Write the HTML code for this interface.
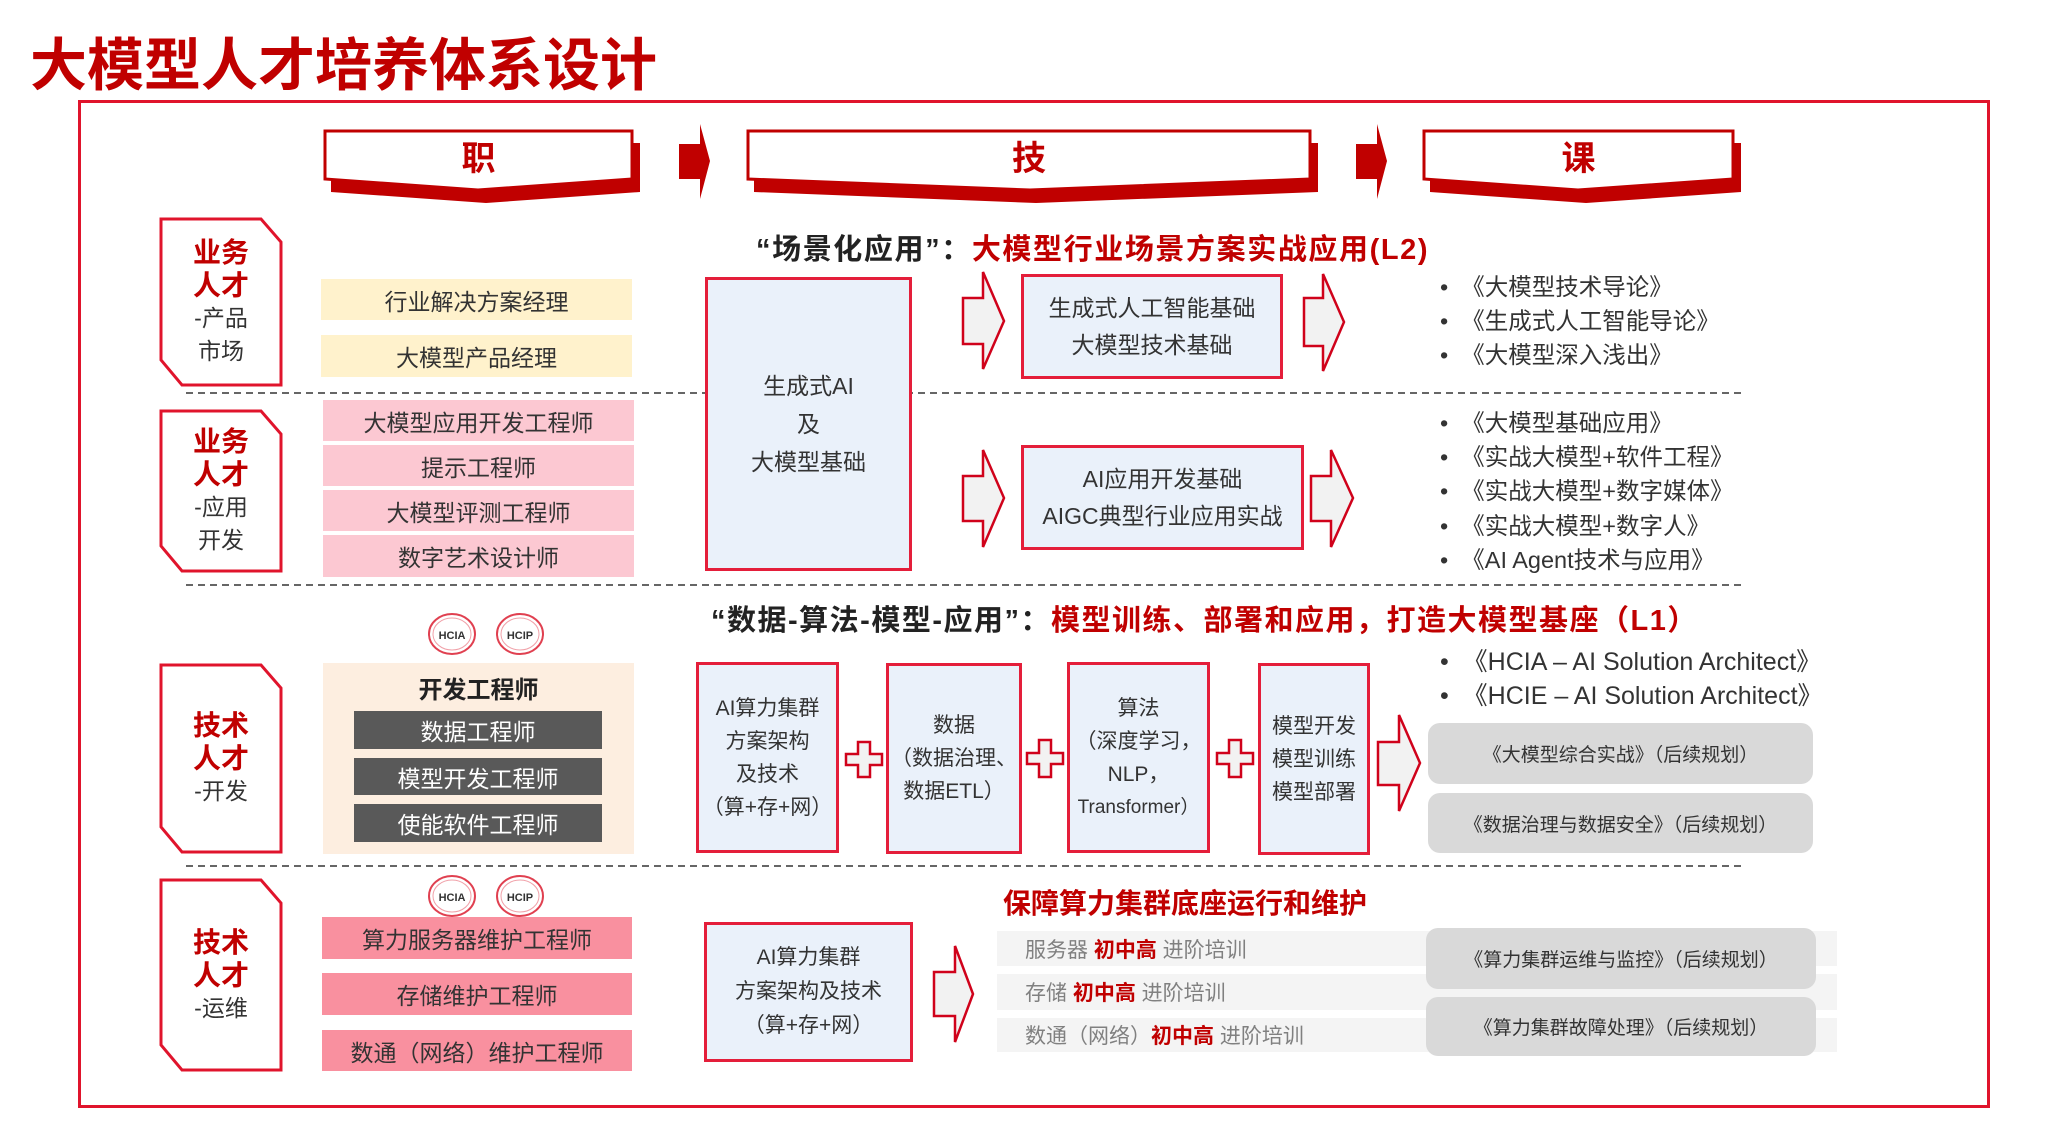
<!DOCTYPE html>
<html><head><meta charset="utf-8"><style>
*{margin:0;padding:0;box-sizing:border-box}
body{width:2048px;height:1131px;background:#fff;position:relative;overflow:hidden;font-family:"Liberation Sans","Noto Sans CJK SC",sans-serif;color:#333}
.a{position:absolute}
.c{position:absolute;display:flex;flex-direction:column;align-items:center;justify-content:center;text-align:center;white-space:nowrap}
.blue{background:#eaf1fa;border:3px solid #e41e3a}
.y{background:#fff2cc;font-size:23px}
.p{background:#fcc8d2;font-size:23px}
.pp{background:#f9909f;font-size:23px}
.dk{background:#595959;color:#fff;font-size:23px}
.gb{background:#d9d9d9;border-radius:12px;font-size:19px}
.strip{background:#f4f4f4;font-size:21px;color:#808080;display:flex;align-items:center;padding-left:28px;white-space:nowrap}
.strip b{color:#c00000}
.lbl span{line-height:33px}
.lbl .r{color:#c00000;font-weight:bold;font-size:28px}
.lbl .n{font-size:23px}
.bl{font-size:23.5px;white-space:nowrap}
.r{color:#c00000}
</style></head><body>
<div class="a" style="left:30px;top:20px;font-size:57px;font-weight:bold;color:#c00000;white-space:nowrap">大模型人才培养体系设计</div>
<div class="a" style="left:78px;top:100px;width:1912px;height:1008px;border:3px solid #e0142c"></div>

<svg class="a" style="left:0;top:0" width="2048" height="1131">
<g fill="#c00000">
<polygon points="331,143 640,143 640,192 486,203 331,192"/>
<polygon points="754,143 1318,143 1318,192 1036,203 754,192"/>
<polygon points="1430,143 1741,143 1741,192 1586,203 1430,192"/>
</g>
<g fill="#fff" stroke="#c00000" stroke-width="3">
<polygon points="325,131 632,131 632,179 478,190 325,179"/>
<polygon points="748,131 1310,131 1310,179 1030,190 748,179"/>
<polygon points="1424,131 1733,131 1733,179 1578,190 1424,179"/>
</g>
<g fill="#c00000">
<polygon points="679,144 700,144 700,124 710,161 700,199 700,179 679,179"/>
<polygon points="1356,144 1377,144 1377,124 1387,161 1377,199 1377,179 1356,179"/>
</g>
<g fill="#fff" stroke="#e0142c" stroke-width="3">
<polygon points="161,219 261,219 281,242 281,385 182,385 161,360"/>
<polygon points="161,411 261,411 281,434 281,571 182,571 161,546"/>
<polygon points="161,665 261,665 281,688 281,852 182,852 161,827"/>
<polygon points="161,880 261,880 281,903 281,1070 182,1070 161,1045"/>
</g>
<g stroke="#666" stroke-width="2" stroke-dasharray="7,5">
<line x1="186" y1="393" x2="1742" y2="393"/>
<line x1="186" y1="585" x2="1742" y2="585"/>
<line x1="186" y1="866" x2="1742" y2="866"/>
</g>
<g fill="#f2f2f2" stroke="#d0021b" stroke-width="2.5">
<polygon points="963,298 983,298 983,272 1004,321 983,369 983,344 963,344"/>
<polygon points="963,476 983,476 983,450 1004,498 983,547 983,521 963,521"/>
<polygon points="1304,298 1323,298 1323,274 1344,322 1323,371 1323,346 1304,346"/>
<polygon points="1311,476 1331,476 1331,450 1353,498 1331,547 1331,521 1311,521"/>
<polygon points="1378,742 1399,742 1399,715 1420,763 1399,811 1399,785 1378,785"/>
<polygon points="934,972 955,972 955,946 973,994 955,1042 955,1016 934,1016"/>
</g>
<g fill="#f2f2f2" stroke="#d0021b" stroke-width="2.5">
<polygon points="858,742 870,742 870,754 882,754 882,765 870,765 870,777 858,777 858,765 846,765 846,754 858,754"/>
<polygon points="1039,740 1051,740 1051,753 1063,753 1063,764 1051,764 1051,777 1039,777 1039,764 1027,764 1027,753 1039,753"/>
<polygon points="1229,740 1241,740 1241,753 1253,753 1253,764 1241,764 1241,777 1229,777 1229,764 1217,764 1217,753 1229,753"/>
</g>
<g font-family="Liberation Sans,sans-serif" font-size="11" font-weight="bold" fill="#333" text-anchor="middle">
<g transform="translate(452,634)"><ellipse rx="23" ry="20" fill="#fff" stroke="#e04050" stroke-width="2"/><ellipse rx="19" ry="16" fill="none" stroke="#f0a0a8" stroke-width="1"/><text y="5">HCIA</text></g>
<g transform="translate(520,634)"><ellipse rx="23" ry="20" fill="#fff" stroke="#e04050" stroke-width="2"/><ellipse rx="19" ry="16" fill="none" stroke="#f0a0a8" stroke-width="1"/><text y="5">HCIP</text></g>
<g transform="translate(452,896)"><ellipse rx="23" ry="20" fill="#fff" stroke="#e04050" stroke-width="2"/><ellipse rx="19" ry="16" fill="none" stroke="#f0a0a8" stroke-width="1"/><text y="5">HCIA</text></g>
<g transform="translate(520,896)"><ellipse rx="23" ry="20" fill="#fff" stroke="#e04050" stroke-width="2"/><ellipse rx="19" ry="16" fill="none" stroke="#f0a0a8" stroke-width="1"/><text y="5">HCIP</text></g>
</g>
</svg>

<div class="c" style="left:325px;top:131px;width:307px;height:48px;font-size:34px;font-weight:bold;color:#c00000">职</div>
<div class="c" style="left:748px;top:131px;width:562px;height:48px;font-size:34px;font-weight:bold;color:#c00000">技</div>
<div class="c" style="left:1424px;top:131px;width:309px;height:48px;font-size:34px;font-weight:bold;color:#c00000">课</div>

<div class="c lbl" style="left:161px;top:219px;width:120px;height:166px"><span class="r">业务</span><span class="r">人才</span><span class="n">-产品</span><span class="n">市场</span></div>
<div class="c lbl" style="left:161px;top:411px;width:120px;height:160px"><span class="r">业务</span><span class="r">人才</span><span class="n">-应用</span><span class="n">开发</span></div>
<div class="c lbl" style="left:161px;top:665px;width:120px;height:187px"><span class="r">技术</span><span class="r">人才</span><span class="n">-开发</span></div>
<div class="c lbl" style="left:161px;top:880px;width:120px;height:190px"><span class="r">技术</span><span class="r">人才</span><span class="n">-运维</span></div>

<div class="c y" style="left:321px;top:279px;width:311px;height:41px">行业解决方案经理</div>
<div class="c y" style="left:321px;top:335px;width:311px;height:42px">大模型产品经理</div>
<div class="c p" style="left:323px;top:400px;width:311px;height:41px">大模型应用开发工程师</div>
<div class="c p" style="left:323px;top:445px;width:311px;height:41px">提示工程师</div>
<div class="c p" style="left:323px;top:490px;width:311px;height:41px">大模型评测工程师</div>
<div class="c p" style="left:323px;top:535px;width:311px;height:42px">数字艺术设计师</div>

<div class="a" style="left:323px;top:663px;width:311px;height:191px;background:#fdeee0"></div>
<div class="c" style="left:323px;top:670px;width:311px;height:34px;font-size:24px;font-weight:bold;color:#222">开发工程师</div>
<div class="c dk" style="left:354px;top:711px;width:248px;height:38px">数据工程师</div>
<div class="c dk" style="left:354px;top:758px;width:248px;height:37px">模型开发工程师</div>
<div class="c dk" style="left:354px;top:804px;width:248px;height:38px">使能软件工程师</div>

<div class="c pp" style="left:322px;top:917px;width:310px;height:42px">算力服务器维护工程师</div>
<div class="c pp" style="left:322px;top:973px;width:310px;height:42px">存储维护工程师</div>
<div class="c pp" style="left:322px;top:1030px;width:310px;height:41px">数通（网络）维护工程师</div>

<div class="c blue" style="left:705px;top:277px;width:207px;height:294px;font-size:23px;line-height:38px"><span>生成式AI</span><span>及</span><span>大模型基础</span></div>
<div class="a" style="left:756px;top:226px;font-size:29px;letter-spacing:1.6px;font-weight:bold;white-space:nowrap;color:#222">“场景化应用”：<span class="r">大模型行业场景方案实战应用(L2)</span></div>
<div class="c blue" style="left:1021px;top:274px;width:262px;height:105px;font-size:23px;line-height:37px"><span>生成式人工智能基础</span><span>大模型技术基础</span></div>
<div class="c blue" style="left:1021px;top:445px;width:283px;height:105px;font-size:23px;line-height:37px"><span>AI应用开发基础</span><span>AIGC典型行业应用实战</span></div>

<div class="a bl" style="left:1440px;top:270px;line-height:34px">•&nbsp;&nbsp;《大模型技术导论》<br>•&nbsp;&nbsp;《生成式人工智能导论》<br>•&nbsp;&nbsp;《大模型深入浅出》</div>
<div class="a bl" style="left:1440px;top:406px;line-height:34.2px">•&nbsp;&nbsp;《大模型基础应用》<br>•&nbsp;&nbsp;《实战大模型+软件工程》<br>•&nbsp;&nbsp;《实战大模型+数字媒体》<br>•&nbsp;&nbsp;《实战大模型+数字人》<br>•&nbsp;&nbsp;《AI Agent技术与应用》</div>

<div class="a" style="left:711px;top:597px;font-size:29px;letter-spacing:1.5px;font-weight:bold;white-space:nowrap;color:#222">“数据-算法-模型-应用”：<span class="r">模型训练、部署和应用，打造大模型基座（L1）</span></div>

<div class="c blue" style="left:696px;top:662px;width:143px;height:191px;font-size:21px;line-height:33px"><span>AI算力集群</span><span>方案架构</span><span>及技术</span><span>（算+存+网）</span></div>
<div class="c blue" style="left:886px;top:663px;width:136px;height:191px;font-size:21px;line-height:33px"><span>数据</span><span>（数据治理、</span><span>数据ETL）</span></div>
<div class="c blue" style="left:1067px;top:662px;width:143px;height:191px;font-size:21px;line-height:33px"><span>算法</span><span>（深度学习，</span><span>NLP，</span><span style="font-size:19px">Transformer）</span></div>
<div class="c blue" style="left:1258px;top:663px;width:112px;height:192px;font-size:21px;line-height:33px"><span>模型开发</span><span>模型训练</span><span>模型部署</span></div>

<div class="a bl" style="left:1440px;top:645px;line-height:34px;font-size:25px">•&nbsp;&nbsp;《HCIA – AI Solution Architect》<br>•&nbsp;&nbsp;《HCIE – AI Solution Architect》</div>
<div class="c gb" style="left:1428px;top:723px;width:385px;height:61px">《大模型综合实战》（后续规划）</div>
<div class="c gb" style="left:1428px;top:793px;width:385px;height:60px">《数据治理与数据安全》（后续规划）</div>

<div class="a" style="left:1003px;top:882px;font-size:28px;font-weight:bold;color:#c00000;white-space:nowrap">保障算力集群底座运行和维护</div>
<div class="a strip" style="left:997px;top:931px;width:840px;height:35px">服务器&nbsp;<b>初中高</b>&nbsp;进阶培训</div>
<div class="a strip" style="left:997px;top:974px;width:840px;height:36px">存储&nbsp;<b>初中高</b>&nbsp;进阶培训</div>
<div class="a strip" style="left:997px;top:1018px;width:840px;height:34px">数通（网络）<b>初中高</b>&nbsp;进阶培训</div>
<div class="c gb" style="left:1426px;top:928px;width:390px;height:61px">《算力集群运维与监控》（后续规划）</div>
<div class="c gb" style="left:1426px;top:997px;width:390px;height:59px">《算力集群故障处理》（后续规划）</div>

<div class="c blue" style="left:704px;top:922px;width:209px;height:140px;font-size:21px;line-height:34px"><span>AI算力集群</span><span>方案架构及技术</span><span>（算+存+网）</span></div>
</body></html>
